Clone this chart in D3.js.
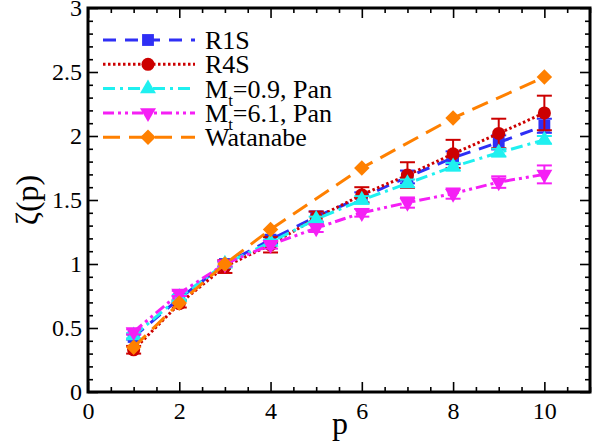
<html><head><meta charset="utf-8"><script src="https://cdn.jsdelivr.net/npm/d3@7"></script>
<style>
  svg text, svg tspan { font-family: "Liberation Serif", "Times New Roman", Times, serif !important; }
</style>
</head>
<body style="margin:0">
<svg id="zeta" width="601" height="442" style="display:block"></svg>
<script>
// Structure-function scaling exponents zeta(p) versus order p
const orders = [1, 2, 3, 4, 5, 6, 7, 8, 9, 10];

const r1s    = [0.43, 0.73, 1.00, 1.19, 1.37, 1.52, 1.68, 1.83, 1.95, 2.08];
const r1sErr = [0.02, 0.02, 0.02, 0.03, 0.04, 0.04, 0.05, 0.05, 0.055, 0.055];

const r4s    = [0.33, 0.69, 0.98, 1.15, 1.36, 1.54, 1.695, 1.86, 2.02, 2.18];
const r4sErr = [0.03, 0.03, 0.05, 0.06, 0.05, 0.06, 0.10, 0.11, 0.115, 0.135];

const pan09    = [0.44, 0.74, 1.00, 1.17, 1.35, 1.50, 1.63, 1.76, 1.87, 1.97];
const pan09Err = [0.02, 0.02, 0.02, 0.02, 0.02, 0.03, 0.03, 0.03, 0.03, 0.03];

const pan61    = [0.47, 0.77, 1.00, 1.15, 1.28, 1.40, 1.48, 1.55, 1.64, 1.70];
const pan61Err = [0.02, 0.02, 0.02, 0.03, 0.03, 0.03, 0.04, 0.04, 0.045, 0.07];

const watanabeOrders = [1, 2, 3, 4, 6, 8, 10];
const watanabe       = [0.35, 0.695, 1.00, 1.27, 1.75, 2.14, 2.46];

const xTicks = [0, 2, 4, 6, 8, 10];
const yTicks = [0, 0.5, 1, 1.5, 2, 2.5, 3];

const series = [
  { name: "R1S", xs: orders, ys: r1s, err: r1sErr, color: "#2f2ff5", dash: "13,9", marker: "square" },
  { name: "R4S", xs: orders, ys: r4s, err: r4sErr, color: "#cc0000", dash: "2.5,2.5", marker: "circle" },
  { name: ["M", "t", "=0.9, Pan"], xs: orders, ys: pan09, err: pan09Err, color: "#1ff0f0", dash: "12,5,3,5", marker: "triangle" },
  { name: ["M", "t", "=6.1, Pan"], xs: orders, ys: pan61, err: pan61Err, color: "#f51ff5", dash: "11,4,3,4,3,4", marker: "triangleDown" },
  { name: "Watanabe", xs: watanabeOrders, ys: watanabe, err: null, color: "#ff8000", dash: "17,9", marker: "diamond" }
];

const FONT = "Liberation Serif";
const svg = d3.select("#zeta");
const x = d3.scaleLinear().domain([0, 11]).range([88, 590]);
const y = d3.scaleLinear().domain([0, 3]).range([392, 8]);

const markerPath = {
  square: d3.symbol().type(d3.symbolSquare).size(140)(),
  circle: d3.symbol().type(d3.symbolCircle).size(135)(),
  triangle: d3.symbol().type(d3.symbolTriangle).size(110)(),
  triangleDown: d3.symbol().type(d3.symbolTriangle).size(110)(),
  diamond: d3.symbol().type(d3.symbolSquare).size(120)()
};
const markerRotate = { square: 0, circle: 0, triangle: 0, triangleDown: 180, diamond: 45 };

function drawMarker(g, type, cx, cy, color) {
  g.append("path")
    .attr("d", markerPath[type])
    .attr("transform", `translate(${cx},${cy}) rotate(${markerRotate[type]})`)
    .attr("fill", color);
}

const plot = svg.append("g");
const line = d3.line().x(d => x(d[0])).y(d => y(d[1]));

series.forEach(s => {
  const g = plot.append("g");
  const pts = s.xs.map((v, i) => [v, s.ys[i]]);
  g.append("path")
    .attr("d", line(pts))
    .attr("fill", "none")
    .attr("stroke", s.color)
    .attr("stroke-width", 3)
    .attr("stroke-dasharray", s.dash);
  if (s.err) {
    s.xs.forEach((v, i) => {
      const cx = x(v), lo = y(s.ys[i] - s.err[i]), hi = y(s.ys[i] + s.err[i]);
      g.append("line").attr("x1", cx).attr("x2", cx).attr("y1", lo).attr("y2", hi)
        .attr("stroke", s.color).attr("stroke-width", 2);
      [lo, hi].forEach(yy => g.append("line")
        .attr("x1", cx - 7.5).attr("x2", cx + 7.5).attr("y1", yy).attr("y2", yy)
        .attr("stroke", s.color).attr("stroke-width", 2));
    });
  }
  pts.forEach(p => drawMarker(g, s.marker, x(p[0]), y(p[1]), s.color));
});

// Frame with inward ticks
const axes = svg.append("g");
const xMinor = d3.range(0, 11.01, 0.5).filter(v => Math.abs(v / 2 - Math.round(v / 2)) > 1e-6);
const yMinor = d3.range(0, 3.001, 0.1).map(v => +v.toFixed(1)).filter(v => Math.abs(v * 2 - Math.round(v * 2)) > 1e-6);

function styleAxis(sel) {
  sel.attr("font-family", FONT).attr("font-size", 24);
  sel.select(".domain").remove();
  sel.selectAll(".tick line").attr("stroke", "#000").attr("stroke-width", 1.6);
  sel.selectAll("text").attr("fill", "#000");
}

axes.append("g").attr("transform", `translate(0,${y(0)})`)
  .call(d3.axisBottom(x).tickValues(xTicks).tickSize(-10).tickPadding(10).tickFormat(d3.format("d")))
  .call(styleAxis);
axes.append("g").attr("transform", `translate(0,${y(0)})`)
  .call(d3.axisBottom(x).tickValues(xMinor).tickSize(-5).tickFormat(""))
  .call(styleAxis);
axes.append("g").attr("transform", `translate(0,${y(3)})`)
  .call(d3.axisTop(x).tickValues(xTicks).tickSize(-10).tickFormat(""))
  .call(styleAxis);
axes.append("g").attr("transform", `translate(0,${y(3)})`)
  .call(d3.axisTop(x).tickValues(xMinor).tickSize(-5).tickFormat(""))
  .call(styleAxis);
axes.append("g").attr("transform", `translate(${x(0)},0)`)
  .call(d3.axisLeft(y).tickValues(yTicks).tickSize(-10).tickPadding(6).tickFormat(d => String(d)))
  .call(styleAxis);
axes.append("g").attr("transform", `translate(${x(0)},0)`)
  .call(d3.axisLeft(y).tickValues(yMinor).tickSize(-5).tickFormat(""))
  .call(styleAxis);
axes.append("g").attr("transform", `translate(${x(11)},0)`)
  .call(d3.axisRight(y).tickValues(yTicks).tickSize(-10).tickFormat(""))
  .call(styleAxis);
axes.append("g").attr("transform", `translate(${x(11)},0)`)
  .call(d3.axisRight(y).tickValues(yMinor).tickSize(-5).tickFormat(""))
  .call(styleAxis);

axes.append("rect")
  .attr("x", x(0)).attr("y", y(3))
  .attr("width", x(11) - x(0)).attr("height", y(0) - y(3))
  .attr("fill", "none").attr("stroke", "#000").attr("stroke-width", 3);

// Axis titles
svg.append("text")
  .attr("transform", `translate(38,${y(1.5)}) rotate(-90)`)
  .attr("text-anchor", "middle")
  .attr("font-size", 32)
  .text("ζ(p)");
svg.append("text")
  .attr("x", 340).attr("y", 434)
  .attr("text-anchor", "middle")
  .attr("font-size", 32)
  .text("p");

// Legend
const legend = svg.append("g");
series.forEach((s, i) => {
  const cy = 40 + i * 24.3;
  legend.append("line")
    .attr("x1", 103).attr("x2", 195).attr("y1", cy).attr("y2", cy)
    .attr("stroke", s.color).attr("stroke-width", 3).attr("stroke-dasharray", s.dash);
  drawMarker(legend, s.marker, 148, cy, s.color);
  const t = legend.append("text").attr("x", 205).attr("y", cy + 9).attr("font-size", 26);
  if (Array.isArray(s.name)) {
    t.append("tspan").text(s.name[0]);
    t.append("tspan").attr("dy", 8).attr("font-size", 17).text(s.name[1]);
    t.append("tspan").attr("dy", -8).text(s.name[2]);
  } else {
    t.text(s.name);
  }
});

// Serif face on every label, applied inline with top priority
svg.selectAll("text, tspan").each(function () {
  this.style.setProperty("font-family", "'Liberation Serif', 'Times New Roman', serif", "important");
});
</script>
</body>
</html>
